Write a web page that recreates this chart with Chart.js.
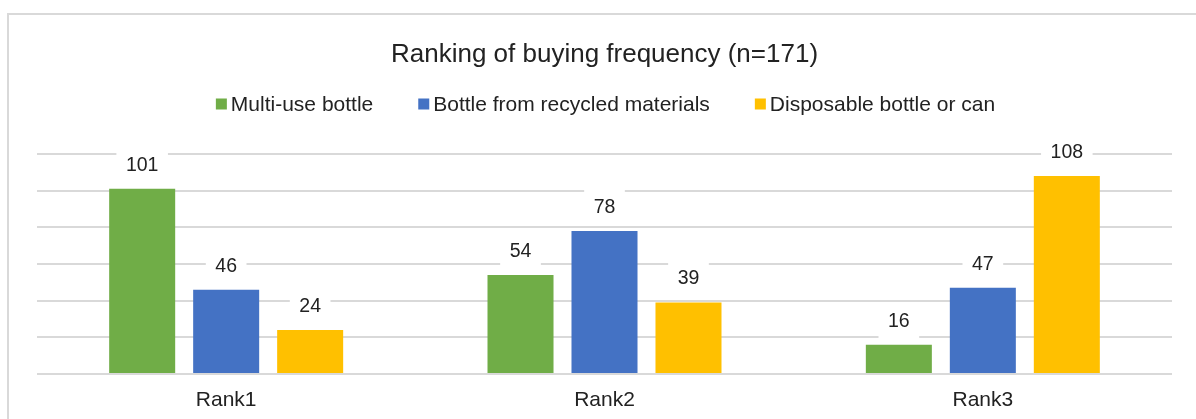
<!DOCTYPE html>
<html>
<head>
<meta charset="utf-8">
<title>Ranking of buying frequency</title>
<script src="https://cdn.jsdelivr.net/npm/chart.js@4/dist/chart.umd.min.js"></script>
<style>
  html, body { margin: 0; padding: 0; background: #ffffff; }
  #wrap { position: relative; width: 1196px; height: 419px; }
</style>
</head>
<body>
<div id="wrap"><canvas id="chart"></canvas></div>
<script>
// Categories and series values
const categories = ['Rank1', 'Rank2', 'Rank3'];
const seriesNames = ['Multi-use bottle', 'Bottle from recycled materials', 'Disposable bottle or can'];
const multiUse = [101, 54, 16];
const recycled = [46, 78, 47];
const disposable = [24, 39, 108];
const yTicks = [0, 20, 40, 60, 80, 100, 120];

const FONT = "'Liberation Sans', Arial, sans-serif";
const TEXT = '#222222';
const GRID = '#d9d9d9';
const colors = ['#70AD47', '#4472C4', '#FFC000'];

// Outer frame of the chart box
const framePlugin = {
  id: 'frame',
  beforeDraw(chart) {
    const ctx = chart.ctx;
    ctx.save();
    ctx.fillStyle = '#ffffff';
    ctx.fillRect(0, 0, chart.width, chart.height);
    ctx.strokeStyle = GRID;
    ctx.lineWidth = 2;
    ctx.beginPath();
    ctx.moveTo(8, chart.height + 2);
    ctx.lineTo(8, 14);
    ctx.lineTo(chart.width + 2, 14);
    ctx.stroke();
    ctx.restore();
  }
};

// Legend row: square markers followed by series names
const legendRow = {
  id: 'legendRow',
  afterDraw(chart) {
    const ctx = chart.ctx;
    const size = 11, gap = 4, spacing = 45;
    ctx.save();
    ctx.font = '21px ' + FONT;
    const items = chart.data.datasets.map(ds => ({
      text: ds.label, color: ds.backgroundColor, w: ctx.measureText(ds.label).width
    }));
    let total = 0;
    items.forEach((it, i) => { total += size + gap + it.w + (i ? spacing : 0); });
    const ca = chart.chartArea;
    let x = (ca.left + ca.right) / 2 + 1 - total / 2;
    const cy = 104;
    ctx.textBaseline = 'middle';
    ctx.textAlign = 'left';
    items.forEach(it => {
      ctx.fillStyle = it.color;
      ctx.fillRect(x, cy - size / 2, size, size);
      ctx.fillStyle = TEXT;
      ctx.fillText(it.text, x + size + gap, cy + 1);
      x += size + gap + it.w + spacing;
    });
    ctx.restore();
  }
};

// Value labels above each bar on a white box
const valueLabels = {
  id: 'valueLabels',
  afterDatasetsDraw(chart) {
    const ctx = chart.ctx;
    ctx.save();
    ctx.font = '19.5px ' + FONT;
    ctx.textAlign = 'center';
    ctx.textBaseline = 'middle';
    chart.data.datasets.forEach((ds, di) => {
      const meta = chart.getDatasetMeta(di);
      meta.data.forEach((bar, i) => {
        const txt = String(ds.data[i]);
        const w = ctx.measureText(txt).width;
        const cy = bar.y - 23.5;
        ctx.fillStyle = '#ffffff';
        ctx.fillRect(bar.x - w / 2 - 9.5, cy - 18, w + 19, 36);
        ctx.fillStyle = TEXT;
        ctx.fillText(txt, bar.x, cy);
      });
    });
    ctx.restore();
  }
};

new Chart(document.getElementById('chart'), {
  type: 'bar',
  data: {
    labels: categories,
    datasets: [
      { label: seriesNames[0], data: multiUse, backgroundColor: colors[0] },
      { label: seriesNames[1], data: recycled, backgroundColor: colors[1] },
      { label: seriesNames[2], data: disposable, backgroundColor: colors[2] }
    ]
  },
  options: {
    responsive: true,
    maintainAspectRatio: false,
    animation: false,
    categoryPercentage: 0.666,
    barPercentage: 0.786,
    layout: { padding: { left: 37, right: 24, top: 0, bottom: 0 } },
    plugins: {
      legend: { display: false },
      tooltip: { enabled: false },
      title: {
        display: true,
        text: 'Ranking of buying frequency (n=171)',
        color: TEXT,
        font: { family: FONT, size: 26, weight: 'normal' },
        padding: { top: 39.4, bottom: 83.4 }
      }
    },
    scales: {
      x: {
        grid: { display: false, drawTicks: false },
        border: { display: false },
        ticks: { color: TEXT, font: { family: FONT, size: 21 }, padding: 14 },
        afterFit(axis) { axis.height = 45; }
      },
      y: {
        min: yTicks[0],
        max: yTicks[yTicks.length - 1],
        afterBuildTicks(axis) { axis.ticks = yTicks.map(v => ({ value: v })); },
        grid: { color: GRID, lineWidth: 2, drawTicks: false },
        border: { display: false },
        ticks: { display: false }
      }
    }
  },
  plugins: [framePlugin, legendRow, valueLabels]
});
</script>
</body>
</html>
